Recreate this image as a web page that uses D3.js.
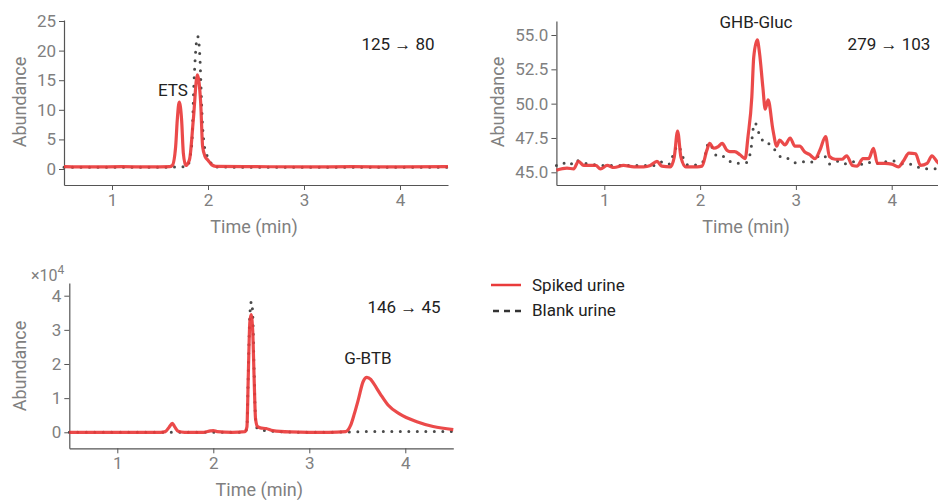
<!DOCTYPE html>
<html><head><meta charset="utf-8">
<script src="https://cdn.jsdelivr.net/npm/d3@7"></script>
<style>
body{margin:0;background:#fff;}
svg{font-family:Roboto,"Noto Sans",sans-serif;}
</style></head>
<body><svg id="chart" width="938" height="500"></svg>
<script>
// ---------- DATA ----------
const xTicks = [1, 2, 3, 4];
// Panel 1: ETS, 125 -> 80
const etsSpikedT = [0.5,0.8,1.1,1.4,1.6,1.628,1.663,1.68,1.70,1.725,1.743,1.768,1.795,1.81,1.847,1.889,1.924,1.944,1.97,2.0,2.04,2.08,2.5,3.0,3.5,4.0,4.5];
const etsSpikedV = [0.4,0.35,0.4,0.35,0.4,0.6,3.8,8.3,11.3,8.3,2.7,0.6,1.1,1.8,8.3,15.9,11.1,3.8,2.1,1.5,0.7,0.45,0.4,0.35,0.4,0.35,0.4];
const etsBlankT = [0.5,1.0,1.5,1.62,1.70,1.78,1.83,1.855,1.88,1.893,1.917,1.927,1.94,1.958,1.986,2.01,2.035,2.06,2.5,3.0,3.5,4.0,4.5];
const etsBlankV = [0.3,0.3,0.3,0.3,0.4,0.4,4,15,21.5,22.4,18.4,13.9,8.3,4.4,2.4,1.9,0.9,0.35,0.3,0.3,0.3,0.3,0.3];
const etsYTicks = [0,5,10,15,20,25];

// Panel 2: GHB-Gluc, 279 -> 103
const ghbSpikedT = [0.5,0.61,0.68,0.73,0.785,0.855,0.91,0.96,1.03,1.1,1.2,1.31,1.41,1.48,1.55,1.6,1.69,1.73,1.765,1.8,1.85,1.97,2.02,2.07,2.10,2.14,2.19,2.23,2.28,2.31,2.36,2.42,2.47,2.50,2.54,2.56,2.597,2.62,2.655,2.68,2.71,2.76,2.80,2.83,2.886,2.94,2.99,3.04,3.09,3.14,3.2,3.25,3.31,3.35,3.41,3.48,3.53,3.59,3.64,3.7,3.76,3.81,3.85,3.93,4.0,4.07,4.12,4.18,4.25,4.3,4.37,4.42,4.47,4.5];
const ghbSpikedV = [45.15,45.3,45.25,45.8,45.5,45.5,45.5,45.25,45.5,45.35,45.5,45.4,45.4,45.5,45.8,45.45,45.4,46.1,48.0,46.1,45.4,45.4,45.45,46.6,47.1,46.75,46.87,47.1,46.6,46.5,46.5,46.26,46.0,47.6,50.5,53.4,54.64,53.7,51.2,49.6,50.27,48.1,46.9,47.35,47.0,47.5,46.9,46.9,46.5,46.3,46.0,46.6,47.6,46.15,45.95,45.95,46.2,45.5,45.45,46.0,46.0,46.75,45.65,45.65,45.6,45.4,45.8,46.4,46.35,45.5,45.65,46.2,45.8,45.6];
const ghbBlankT = [0.5,0.56,0.64,0.69,0.77,0.84,0.99,1.13,1.53,1.62,1.68,1.72,1.77,1.83,1.88,2.0,2.04,2.09,2.13,2.18,2.23,2.28,2.33,2.42,2.48,2.53,2.55,2.575,2.60,2.635,2.68,2.71,2.75,2.82,2.87,2.92,2.99,3.06,3.12,3.19,3.24,3.29,3.35,3.43,3.5,3.57,3.72,3.8,3.86,4.0,4.09,4.23,4.32,4.42,4.5];
const ghbBlankV = [45.5,45.7,45.5,45.9,45.7,45.6,45.5,45.5,45.5,45.8,45.6,46.3,46.95,45.95,45.5,45.6,45.9,47.15,46.75,46.15,46.15,46.05,45.7,45.65,45.7,46.6,48.0,48.6,48.1,47.55,47.1,47.1,46.9,46.26,46.0,46.0,45.7,45.8,45.7,45.8,46.2,46.25,45.6,45.8,45.6,45.8,45.55,45.8,45.65,45.85,45.65,45.55,45.25,45.25,45.3];
const ghbYTicks = [45, 47.5, 50, 52.5, 55];

// Panel 3: G-BTB, 146 -> 45 (x10^4)
const btbSpikedT = [0.5,1.0,1.45,1.5,1.54,1.573,1.60,1.635,1.7,1.9,1.97,2.0,2.04,2.2,2.33,2.35,2.365,2.38,2.393,2.41,2.425,2.44,2.46,2.49,2.55,2.62,2.8,3.0,3.2,3.38,3.43,3.47,3.51,3.56,3.6,3.64,3.67,3.74,3.82,3.94,4.12,4.29,4.5];
const btbSpikedV = [0,0,0,0.02,0.15,0.26,0.15,0.03,0,0,0.04,0.05,0.02,0,0.02,0.15,1.7,3.2,3.45,3.0,1.6,0.4,0.17,0.13,0.11,0.05,0.01,0,0,0.02,0.2,0.55,0.95,1.48,1.61,1.55,1.43,1.12,0.8,0.54,0.31,0.17,0.08];
const btbBlankT = [0.5,1.0,1.5,2.0,2.33,2.35,2.365,2.38,2.397,2.41,2.425,2.44,2.46,2.6,3.0,3.4,3.6,4.0,4.5];
const btbBlankV = [0,0,0,0,0,0.15,1.8,3.4,3.83,3.5,1.8,0.4,0.1,0.03,0,0.01,0.02,0.02,0.02];
const btbYTicks = [0,1,2,3,4];

const legendLabels = ["Spiked urine", "Blank urine"];

// ---------- DRAW ----------
const RED = "#e93b3b", DOT = "#4a4a4a";
const svg = d3.select("#chart");

function panel(cfg) {
  const x = d3.scaleLinear().domain([0.5, 4.5]).range([cfg.left, cfg.right]);
  const y = d3.scaleLinear().domain(cfg.yDomain).range([cfg.bottom, cfg.top]);
  const g = svg.append("g");
  const xa = g.append("g").attr("transform", `translate(0,${cfg.bottom})`)
    .call(d3.axisBottom(x).tickValues(xTicks).tickFormat(d3.format("d")).tickSize(5).tickSizeOuter(0).tickPadding(4));
  const ya = g.append("g").attr("transform", `translate(${cfg.left},0)`)
    .call(d3.axisLeft(y).tickValues(cfg.yTicks).tickFormat(cfg.fmt).tickSize(5).tickSizeOuter(0).tickPadding(3));
  [xa, ya].forEach(a => {
    a.select(".domain").attr("stroke", "#555").attr("stroke-width", 1.2);
    a.selectAll(".tick line").attr("stroke", "#555");
    a.selectAll(".tick text").attr("fill", "#808080").style("font-size", "17px").style("font-family", "Roboto");
  });
  const line = d3.line().x(d => x(d[0])).y(d => y(d[1])).curve(d3.curveMonotoneX);
  const blank = cfg.bt.map((t, i) => [t, cfg.bv[i]]);
  const spiked = cfg.st.map((t, i) => [t, cfg.sv[i]]);
  g.append("path").datum(blank).attr("d", line).attr("fill", "none")
    .attr("stroke", DOT).attr("stroke-width", 3).attr("stroke-linecap", "round").attr("stroke-dasharray", "0,8.5");
  g.append("path").datum(spiked).attr("d", line).attr("fill", "none")
    .attr("stroke", RED).attr("stroke-width", 3.2).attr("stroke-opacity", 0.92).attr("stroke-linejoin", "round");
  // axis titles
  g.append("text").attr("x", (cfg.left + cfg.right) / 2 - 2).attr("y", cfg.bottom + 48)
    .attr("text-anchor", "middle").attr("fill", "#808080").style("font-size", "18px").text("Time (min)");
  g.append("text").attr("transform", `translate(${cfg.ytx},${cfg.yty}) rotate(-90)`)
    .attr("text-anchor", "middle").attr("fill", "#808080").style("font-size", "18px").text("Abundance");
  g.append("text").attr("x", cfg.trX).attr("y", cfg.trY).attr("text-anchor", "middle")
    .attr("fill", "#222").style("font-size", "17px").text(cfg.transition);
  g.append("text").attr("x", cfg.lbX).attr("y", cfg.lbY).attr("text-anchor", "middle")
    .attr("fill", "#222").style("font-size", "17px").text(cfg.label);
  return g;
}

panel({left: 64, right: 448, top: 20, bottom: 185, yDomain: [-2.7, 25.17], yTicks: etsYTicks, fmt: d3.format("d"),
  st: etsSpikedT, sv: etsSpikedV, bt: etsBlankT, bv: etsBlankV,
  ytx: 26, yty: 102, transition: "125 → 80", trX: 398, trY: 50, label: "ETS", lbX: 173, lbY: 96});

panel({left: 556.4, right: 939.6, top: 21, bottom: 185, yDomain: [44.075, 56.02], yTicks: ghbYTicks, fmt: d3.format(".1f"),
  st: ghbSpikedT, sv: ghbSpikedV, bt: ghbBlankT, bv: ghbBlankV,
  ytx: 504, yty: 102, transition: "279 → 103", trX: 889, trY: 50, label: "GHB-Gluc", lbX: 756, lbY: 28});

const p3 = panel({left: 69.3, right: 453.3, top: 283, bottom: 448.3, yDomain: [-0.469, 4.372], yTicks: btbYTicks, fmt: d3.format("d"),
  st: btbSpikedT, sv: btbSpikedV, bt: btbBlankT, bv: btbBlankV,
  ytx: 26, yty: 366, transition: "146 → 45", trX: 404, trY: 313, label: "G-BTB", lbX: 368, lbY: 364});
const ex = p3.append("text").attr("x", 31).attr("y", 281).attr("fill", "#808080").style("font-size", "16px");
ex.append("tspan").text("×10");
ex.append("tspan").attr("dy", -7).style("font-size", "12px").text("4");

// legend
const lg = svg.append("g");
lg.append("line").attr("x1", 491).attr("x2", 521).attr("y1", 285).attr("y2", 285).attr("stroke", RED).attr("stroke-width", 2.5);
lg.append("line").attr("x1", 493).attr("x2", 521).attr("y1", 311).attr("y2", 311).attr("stroke", "#333").attr("stroke-width", 2.5).attr("stroke-dasharray", "6,5");
lg.selectAll("text.lg").data(legendLabels).enter().append("text").attr("class", "lg")
  .attr("x", 532).attr("y", (d, i) => 291 + i * 25).attr("fill", "#222").style("font-size", "17px").text(d => d);
</script></body></html>
